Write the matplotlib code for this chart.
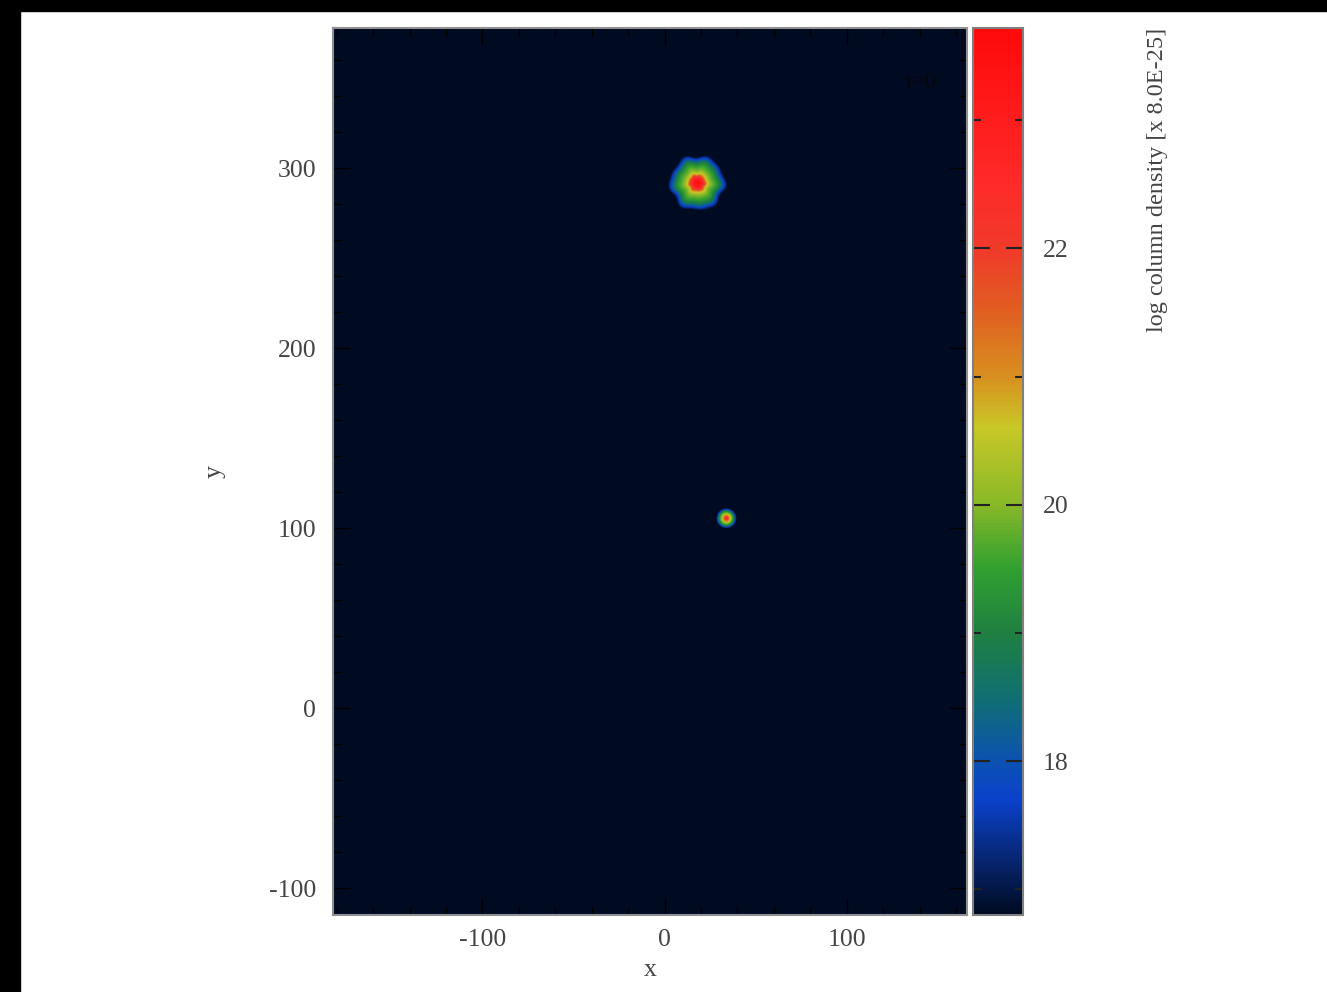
import numpy as np
import matplotlib
matplotlib.use("Agg")
import matplotlib.pyplot as plt
from matplotlib.colors import LinearSegmentedColormap
from matplotlib.patches import Rectangle

plt.rcParams['font.family'] = ['Liberation Serif', 'DejaVu Serif']
plt.rcParams['axes.unicode_minus'] = False

# plot limits
x_lim = [-182, 166]
y_lim = [-115, 378]
c_lim = [16.8, 23.72]

# blob centres and radial profiles (radius in x units, log column density)
blob_x = [18, 34]
blob_y = [292, 105.5]
blob_r = [
    [0, 2, 3.5, 5, 7, 10, 12, 13.5, 15, 17],
    [0, 1, 2, 3, 4, 5, 6],
]
blob_v = [
    [23.6, 23.1, 22.2, 20.8, 20.0, 19.4, 18.7, 17.9, 17.1, 16.0],
    [22.6, 21.9, 20.7, 19.9, 19.0, 17.6, 16.4],
]
blob_lumps = [0.045, 0.0]

# colour bar stops (value, colour)
cmap_vals = [16.8, 17.3, 17.7, 18.0, 18.5, 19.0, 19.5, 20.0, 20.6, 21.0, 21.5, 22.0, 22.5, 23.72]
cmap_cols = ['#000b22', '#082a80', '#0a42cc', '#0c52b0', '#107070', '#208040', '#30a030',
             '#88b828', '#c8c828', '#d89020', '#e06020', '#f03a2a', '#ff2a2a', '#ff0a0a']

cmap = LinearSegmentedColormap.from_list(
    'splash', [((v - c_lim[0]) / (c_lim[1] - c_lim[0]), c) for v, c in zip(cmap_vals, cmap_cols)])

xs = np.linspace(x_lim[0], x_lim[1], 700)
ys = np.linspace(y_lim[0], y_lim[1], 990)
X, Y = np.meshgrid(xs, ys)
field = np.full(X.shape, c_lim[0] - 1.0)
for bx, by, br, bv, lump in zip(blob_x, blob_y, blob_r, blob_v, blob_lumps):
    dx, dy = X - bx, Y - by
    th = np.arctan2(dy, dx)
    r = np.hypot(dx, dy) / (1 + lump * (np.cos(6 * th) + 0.6 * np.cos(9 * th + 1.0)))
    field = np.maximum(field, np.interp(r, br, bv, right=c_lim[0] - 1.0))

W, H = 1327, 992
fig = plt.figure(figsize=(W / 100, H / 100), dpi=100)
fig.patch.set_facecolor('white')
fig.patches.append(Rectangle((0, 1 - 11 / H), 1, 11 / H, transform=fig.transFigure, color='black', zorder=-1))
fig.patches.append(Rectangle((0, 0), 20 / W, 1, transform=fig.transFigure, color='black', zorder=-1))

ax = fig.add_axes([333 / W, 1 - 915 / H, 634 / W, 887 / H])
ax.set_facecolor(cmap(0.0))
im = ax.imshow(field, extent=[x_lim[0], x_lim[1], y_lim[0], y_lim[1]], origin='lower',
               cmap=cmap, vmin=c_lim[0], vmax=c_lim[1], aspect='auto', interpolation='bilinear')
ax.set_xlim(x_lim)
ax.set_ylim(y_lim)
ax.set_xticks([-100, 0, 100])
ax.set_yticks([-100, 0, 100, 200, 300])
ax.set_xticks(np.arange(-180, 170, 20), minor=True)
ax.set_yticks(np.arange(-100, 380, 20), minor=True)
ax.tick_params(which='both', direction='in', top=True, right=True, colors='black',
               labelcolor='#444444', labelsize=18.5, width=1.0)
ax.tick_params(which='major', length=12)
ax.tick_params(which='minor', length=6)
ax.tick_params(axis='y', pad=12)
ax.tick_params(axis='x', pad=10)
for s in ax.spines.values():
    s.set_color('#909090')
    s.set_linewidth(1.5)
ax.set_xlabel('x', fontsize=18.5, color='#444444', labelpad=6)
ax.set_ylabel('y', fontsize=18.5, color='#444444', labelpad=31)
fig.text(937 / W, 1 - 82 / H, 't=0', ha='right', va='center', fontsize=17, color='#05060c')

cax = fig.add_axes([973 / W, 1 - 915 / H, 50 / W, 887 / H])
cb = fig.colorbar(im, cax=cax)
cb.outline.set_edgecolor('#808080')
cb.outline.set_linewidth(1.5)
cb.set_ticks([18, 20, 22])
cax.set_yticks([17, 19, 21, 23], minor=True)
cax.tick_params(which='both', direction='in', left=True, right=True, colors='#222222',
                labelcolor='#444444', labelsize=18.5, width=1.5, pad=14)
cax.tick_params(which='major', length=12)
cax.tick_params(which='minor', length=6)

fig.text(1158 / W, 1 - 28 / H, 'log column density [x 8.0E-25]', rotation=90,
         ha='center', va='top', fontsize=17.5, color='#444444')

fig.savefig('out.png', dpi=100)
